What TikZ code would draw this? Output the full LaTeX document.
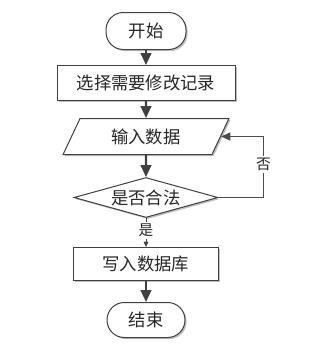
\documentclass[tikz,border=0pt]{standalone}
\usepackage{fontspec}
\setmainfont{Noto Sans CJK SC}
\usetikzlibrary{arrows.meta,shapes.geometric,positioning,shadows}

\begin{document}
\begin{tikzpicture}[>={Triangle[width=8pt,length=9pt]},
    every node/.style={font=\fontsize{13pt}{15pt}\selectfont, text=black!85, inner sep=0pt},
    shape base/.style={draw=black!75, fill=white, line width=0.75pt,
        drop shadow={shadow xshift=1.2pt, shadow yshift=-1.2pt, fill=black!25, opacity=1}},
    terminal/.style={shape base, rectangle, rounded corners=13pt},
    process/.style={shape base, rectangle},
    io/.style={shape base, trapezium, trapezium left angle=61, trapezium right angle=119,
        trapezium stretches=true, minimum width=124.5pt, minimum height=27pt},
    decision/.style={shape base, diamond, aspect=3.6, minimum width=108pt, minimum height=30pt},
    flow/.style={->, draw=black!75, line width=1.6pt},
    back/.style={-{Triangle[width=6pt,length=7pt]}, draw=black!70, line width=1.1pt},
    thinflow/.style={-{Triangle[width=3.5pt,length=4pt]}, draw=black!75, line width=0.75pt},
    answer/.style={fill=white, inner sep=1.5pt, font=\fontsize{11pt}{13pt}\selectfont}]
    \useasboundingbox (0,0) rectangle (237.75pt,-260.25pt);

    \node[terminal, minimum width=60pt, minimum height=27.75pt] (start) at (109.5pt,-23.25pt) {开始};
    \node[process, below=11.25pt of start, minimum width=133.5pt, minimum height=26.25pt] (select) {选择需要修改记录};
    \node[io, below=12.75pt of select] (input) {输入数据};
    \node[decision, below=16.5pt of input] (check) {是否合法};
    \node[process, below=21.75pt of check, minimum width=108.75pt, minimum height=24.75pt] (write) {写入数据库};
    \node[terminal, below=15.75pt of write, minimum width=58.5pt, minimum height=26.25pt] (finish) {结束};

    \draw[flow] (start) -- (select);
    \draw[flow] (select) -- (input);
    \draw[flow] (input) -- (check);
    \draw[thinflow] (check) -- node[answer, pos=0.42] {是} (write);
    \draw[back] (check.east) -- ++(33.75pt,0) |- node[answer, pos=0.27] {否} (input.east);
    \draw[flow] (write) -- (finish);
\end{tikzpicture}
\end{document}
